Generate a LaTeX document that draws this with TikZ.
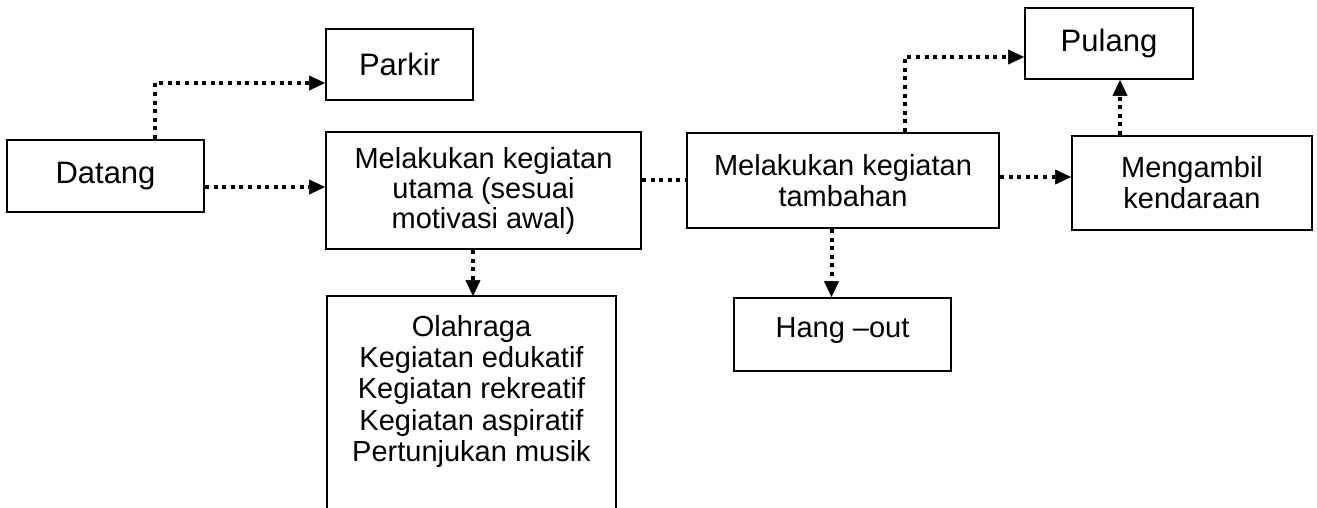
\documentclass[tikz,border=0pt]{standalone}
\usepackage{fontspec}
\setmainfont{Liberation Sans}
\usetikzlibrary{arrows.meta,calc}
\begin{document}
\begin{tikzpicture}[x=1pt,y=-1pt,
  box/.style={draw, line width=1.9pt, inner sep=0pt, align=center, font=\fontsize{29}{31}\selectfont},
  bigtext/.style={font=\fontsize{31}{33}\selectfont},
  conn/.style={line width=4pt, dash pattern=on 4pt off 4.6pt},
  arr/.style={conn, -{Triangle[length=16pt,width=15pt,line width=0.5pt]}}]
\useasboundingbox (0,0) rectangle (1317,507);

\node[box, bigtext, minimum width=197pt, minimum height=72pt] (datang) at (105.5,176) {Datang};
\node[box, bigtext, minimum width=147pt, minimum height=71pt] (parkir) at (399.5,64.5) {Parkir};
\node[box, font=\fontsize{29}{30}\selectfont, minimum width=315pt, minimum height=117pt] (utama) at (483.5,190.5) {Melakukan kegiatan\\utama (sesuai\\motivasi awal)};
\node[box, minimum width=312pt, minimum height=95pt] (tambahan) at (843,180.5) {Melakukan kegiatan\\tambahan};
\node[box, bigtext, minimum width=168pt, minimum height=71pt] (pulang) at (1109,43.5) {Pulang};
\node[box, minimum width=240pt, minimum height=94pt] (ambil) at (1192,183) {Mengambil\\kendaraan};
\node[box, minimum width=217pt, minimum height=73pt, text height=21pt, text depth=15pt] (hangout) at (842.5,334.5) {Hang --out};

\node[draw=none, inner sep=0pt, outer sep=0.95pt, minimum width=287pt, minimum height=210pt] (olah) at (471.5,402) {};
\draw[line width=1.9pt] (olah.south west) -- (olah.north west) -- (olah.north east) -- (olah.south east);
\node[anchor=north, inner sep=0pt, align=center, font=\fontsize{29}{31.3}\selectfont] (olahtxt) at ([yshift=-19pt]olah.north) {Olahraga\\Kegiatan edukatif\\Kegiatan rekreatif\\Kegiatan aspiratif\\Pertunjukan musik};

\draw[arr] ([xshift=49.5pt]datang.north) |- ([yshift=-18.5pt]parkir.west);
\draw[arr] ([yshift=-11pt]datang.east) -- ([yshift=-11pt]datang.east -| utama.west);
\draw[conn] ([yshift=10.5pt]utama.east) -- ([yshift=10.5pt]utama.east -| tambahan.west);
\draw[arr] ([xshift=-10.5pt]utama.south) -- ([xshift=-10.5pt]utama.south |- olah.north);
\draw[arr] ([xshift=62pt]tambahan.north) |- ([yshift=-13.5pt]pulang.west);
\draw[arr] ([yshift=3.5pt]tambahan.east) -- ([yshift=3.5pt]tambahan.east -| ambil.west);
\draw[arr] ([xshift=-72pt]ambil.north) -- ([xshift=-72pt]ambil.north |- pulang.south);
\draw[arr] ([xshift=-11.5pt]tambahan.south) -- ([xshift=-11.5pt]tambahan.south |- hangout.north);
\end{tikzpicture}
\end{document}
